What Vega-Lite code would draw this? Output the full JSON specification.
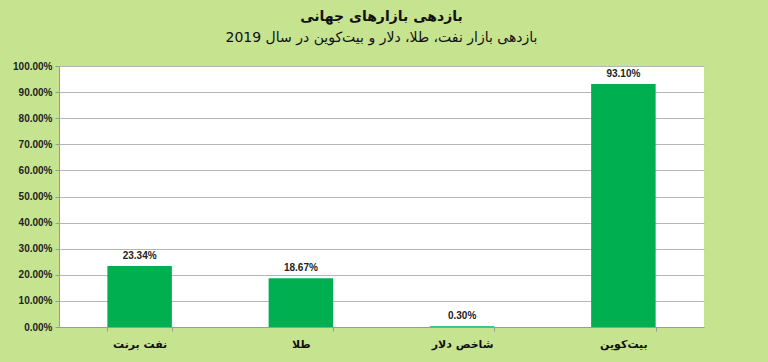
{
  "$schema": "https://vega.github.io/schema/vega-lite/v6.json",
  "autosize": "none",
  "width": 645,
  "height": 261,
  "padding": {"left": 59, "top": 66, "right": 64, "bottom": 35},
  "background": "#c6e38f",
  "title": {
    "text": "بازدهی بازارهای جهانی",
    "subtitle": "بازدهی بازار نفت، طلا، دلار و بیت‌کوین در سال 2019",
    "anchor": "middle",
    "font": "DejaVu Sans",
    "fontSize": 14,
    "fontWeight": "bold",
    "color": "#111111",
    "subtitleFont": "DejaVu Sans",
    "subtitleFontSize": 14,
    "subtitleColor": "#111111",
    "subtitlePadding": 7,
    "offset": 16
  },
  "config": {
    "view": {"fill": "white", "stroke": null},
    "font": "DejaVu Sans"
  },
  "data": {
    "values": [
      {"asset": "نفت برنت", "value": 0.2334},
      {"asset": "طلا", "value": 0.1867},
      {"asset": "شاخص دلار", "value": 0.003},
      {"asset": "بیت‌کوین", "value": 0.931}
    ]
  },
  "encoding": {
    "x": {
      "field": "asset",
      "type": "nominal",
      "sort": null,
      "scale": {"paddingInner": 0.6, "paddingOuter": 0.3},
      "axis": {
        "title": null,
        "labelAngle": 0,
        "labelFont": "DejaVu Sans",
        "labelFontSize": 11,
        "labelFontWeight": "bold",
        "labelColor": "#111111",
        "labelPadding": 7,
        "domainColor": "#9a9a9a",
        "tickColor": "#9a9a9a",
        "tickBand": "extent",
        "tickSize": 4
      }
    },
    "y": {
      "field": "value",
      "type": "quantitative",
      "scale": {"domain": [0, 1]},
      "axis": {
        "title": null,
        "format": ".2%",
        "values": [0, 0.1, 0.2, 0.3, 0.4, 0.5, 0.6, 0.7, 0.8, 0.9, 1.0],
        "labelOverlap": false,
        "labelFont": "Liberation Sans",
        "labelFontSize": 10,
        "labelFontWeight": "bold",
        "labelColor": "#222222",
        "labelPadding": 3,
        "domainColor": "#9a9a9a",
        "tickColor": "#9a9a9a",
        "tickSize": 4,
        "gridColor": "#b4b4b4",
        "gridWidth": 1.2
      }
    }
  },
  "layer": [
    {"mark": {"type": "bar", "color": "#00b050"}},
    {
      "mark": {
        "type": "text",
        "baseline": "bottom",
        "dy": -5,
        "font": "Liberation Sans",
        "fontSize": 10,
        "fontWeight": "bold",
        "color": "#222222"
      },
      "encoding": {
        "text": {"field": "value", "type": "quantitative", "format": ".2%"}
      }
    }
  ]
}
